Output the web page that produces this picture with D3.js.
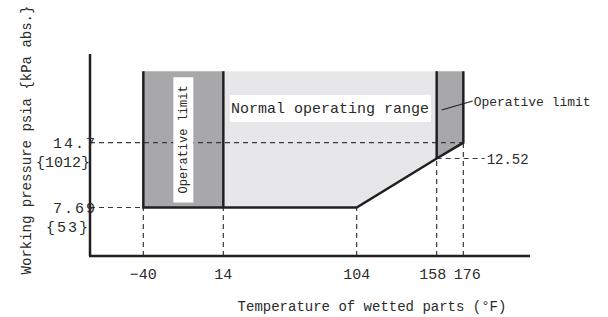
<!DOCTYPE html>
<html>
<head>
<meta charset="utf-8">
<script src="https://cdn.jsdelivr.net/npm/d3@7"></script>
<style>
  body { margin: 0; background: #fff; }
  text { font-family: "Liberation Mono", "DejaVu Sans Mono", monospace; fill: #2b2b2b; }
</style>
</head>
<body>
<svg id="chart" width="608" height="317"></svg>
<script>
// temperature ticks (°F) and pressure marks (psia)
const tempTicks = [-40, 14, 104, 158, 176];
const tickNudge = [0, 0, 0, -4, 4];
const pressMarks = [7.69, 14.7];
const pressKpa = ['{53}', '{1012}'];
const pressRight = 12.52;
const pressTop = 23;

// operating envelope, [temp, pressure]
const leftLimit = [[-40, pressTop], [14, pressTop], [14, 7.69], [-40, 7.69]];
const normalRange = [[14, pressTop], [158, pressTop], [158, 12.52], [104, 7.69], [14, 7.69]];
const rightLimit = [[158, pressTop], [176, pressTop], [176, 14.7], [158, 12.52]];

const margin = {top: 54, right: 78, bottom: 61, left: 90};
const width = 608 - margin.left - margin.right;
const height = 317 - margin.top - margin.bottom;

const svg = d3.select('#chart');
const chart = svg.append('g').attr('transform', `translate(${margin.left}, ${margin.top})`);

const x = d3.scaleLinear().domain([-76, 221]).range([0, width]);
// schematic pressure axis, not to scale
const y = d3.scaleLinear().domain([0, 7.69, 12.52, 14.7, 25]).range([height, 153.5, 104.5, 88.7, 0]);

const line = d3.line().x(d => x(d[0])).y(d => y(d[1]));

chart.append('path').datum(normalRange).attr('d', line.curve(d3.curveLinearClosed)).attr('fill', '#e7e7e9');
chart.append('path').datum(leftLimit).attr('d', line).attr('fill', '#a8a8aa');
chart.append('path').datum(rightLimit).attr('d', line).attr('fill', '#a8a8aa');

// dashed guides
const dash = chart.append('g').attr('stroke', '#3a3a3a').attr('stroke-width', 1.2)
  .attr('stroke-dasharray', '5,4').attr('fill', 'none');
const tickTop = {'-40': 7.69, '14': 7.69, '104': 7.69, '158': 12.52, '176': 14.7};
tempTicks.forEach(t => {
  dash.append('line').attr('x1', x(t)).attr('x2', x(t)).attr('y1', height).attr('y2', y(tickTop[t]));
});
dash.append('line').attr('x1', 0).attr('x2', x(176)).attr('y1', y(14.7)).attr('y2', y(14.7));
dash.append('line').attr('x1', 0).attr('x2', x(-40)).attr('y1', y(7.69)).attr('y2', y(7.69));
dash.append('line').attr('x1', x(158)).attr('x2', x(158) + 48).attr('y1', y(pressRight)).attr('y2', y(pressRight));

// envelope borders
const border = d3.line().x(d => x(d[0])).y(d => y(d[1]));
const edges = [
  [[-40, pressTop], [-40, 7.69], [104, 7.69], [158, 12.52], [176, 14.7], [176, pressTop]],
  [[14, pressTop], [14, 7.69]],
  [[158, pressTop], [158, 12.52]]
];
chart.selectAll('.edge').data(edges).enter().append('path')
  .attr('class', 'edge').attr('d', border)
  .attr('fill', 'none').attr('stroke', '#231f20').attr('stroke-width', 2.5);

// axes
const axes = chart.append('g').attr('stroke', '#231f20').attr('stroke-width', 2.5);
axes.append('line').attr('x1', 0).attr('x2', 0).attr('y1', 0).attr('y2', height);
axes.append('line').attr('x1', -1).attr('x2', width).attr('y1', height).attr('y2', height);

chart.selectAll('.xtick').data(tempTicks).enter().append('text')
  .attr('class', 'xtick').attr('x', (d, i) => x(d) + tickNudge[i]).attr('y', height + 23)
  .attr('text-anchor', 'middle').style('font-size', '15px')
  .text(d => d < 0 ? '\u2212' + Math.abs(d) : d);

chart.selectAll('.ytick').data(pressMarks).enter().append('text')
  .attr('class', 'ytick').attr('x', 7).attr('y', d => y(d) + 5)
  .attr('text-anchor', 'end').style('font-size', '15px').style('letter-spacing', '2px')
  .text(d => d);

chart.selectAll('.ykpa').data(pressMarks).enter().append('text')
  .attr('class', 'ykpa').attr('x', 0).attr('y', d => y(d) + 24)
  .attr('text-anchor', 'end').style('font-size', '15px').style('letter-spacing', (d, i) => i ? '0px' : '2px')
  .text((d, i) => pressKpa[i]);

chart.append('text').attr('x', x(158) + 50).attr('y', y(pressRight) + 5)
  .style('font-size', '14px').text(pressRight);

// labels
const leftX = (x(-40) + x(14)) / 2;
const leftY = (y(pressTop) + y(7.69)) / 2;
chart.append('rect').attr('x', leftX - 10).attr('y', y(pressTop) + 6)
  .attr('width', 20).attr('height', y(7.69) - y(pressTop) - 11).attr('fill', '#fff');
chart.append('text').attr('transform', `translate(${leftX + 4}, ${leftY}) rotate(-90)`)
  .attr('text-anchor', 'middle').style('font-size', '12px').text('Operative limit');

const normX = (x(14) + x(158)) / 2;
chart.append('rect').attr('x', normX - 100).attr('y', 41).attr('width', 201).attr('height', 27).attr('fill', '#fff');
chart.append('text').attr('x', normX).attr('y', 59).attr('text-anchor', 'middle')
  .style('font-size', '15px').text('Normal operating range');

chart.append('line').attr('x1', x(158) + 5).attr('y1', 56).attr('x2', x(158) + 36).attr('y2', 47)
  .attr('stroke', '#231f20').attr('stroke-width', 1.2);
chart.append('text').attr('x', x(158) + 37).attr('y', 52).style('font-size', '13px').text('Operative limit');

// axis titles
svg.append('text').attr('transform', 'translate(31, 140) rotate(-90)')
  .attr('text-anchor', 'middle').style('font-size', '14px').text('Working pressure psia {kPa abs.}');
svg.append('text').attr('x', 372).attr('y', 311).attr('text-anchor', 'middle')
  .style('font-size', '14px').text('Temperature of wetted parts (°F)');
</script>
</body>
</html>
